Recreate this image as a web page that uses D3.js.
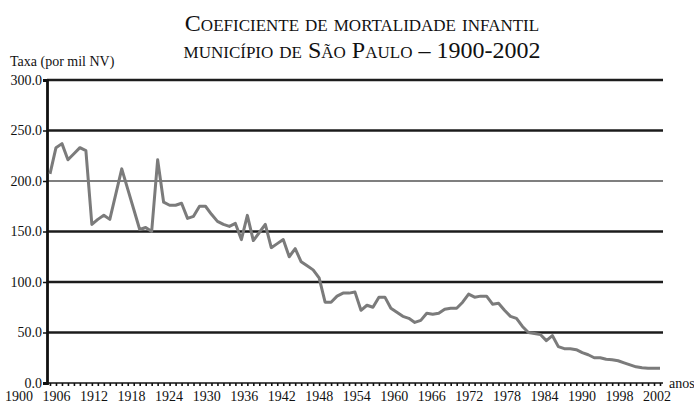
<!DOCTYPE html>
<html>
<head>
<meta charset="utf-8">
<script src="https://cdn.jsdelivr.net/npm/d3@7"></script>
<style>
  body { margin: 0; background: #fff; }
  svg { display: block; }
  text { font-family: "Liberation Serif", "Times New Roman", serif; fill: #111; }
</style>
</head>
<body>
<svg id="chart" width="694" height="406"></svg>
<script>
// infant mortality rate, city of São Paulo (per 1000 live births)
const years = [
  1900, 1901, 1902, 1903, 1904, 1905, 1906, 1907, 1908, 1909,
  1910, 1911, 1912, 1913, 1914, 1915, 1916, 1917, 1918, 1919,
  1920, 1921, 1922, 1923, 1924, 1925, 1926, 1927, 1928, 1929,
  1930, 1931, 1932, 1933, 1934, 1935, 1936, 1937, 1938, 1939,
  1940, 1941, 1942, 1943, 1944, 1945, 1946, 1947, 1948, 1949,
  1950, 1951, 1952, 1953, 1954, 1955, 1956, 1957, 1958, 1959,
  1960, 1961, 1962, 1963, 1964, 1965, 1966, 1967, 1968, 1969,
  1970, 1971, 1972, 1973, 1974, 1975, 1976, 1977, 1978, 1979,
  1980, 1981, 1982, 1983, 1984, 1985, 1986, 1987, 1988, 1989,
  1990, 1991, 1992, 1993, 1994, 1995, 1996, 1997, 1998, 1999,
  2000, 2001, 2002
];
const rates = [
  207, 233, 237, 221, 227, 233, 230, 157, 162, 166,
  162, 187, 212, 192, 172, 152, 154, 150, 221, 179,
  176, 176, 178, 163, 165, 175, 175, 167, 160, 157,
  155, 158, 142, 166, 141, 149, 157, 134, 138, 142,
  125, 133, 120, 116, 112, 104, 80, 80, 86, 89,
  89, 90, 72, 77, 75, 85, 85, 74, 70, 66,
  64, 60, 62, 69, 68, 69, 73, 74, 74, 80,
  88, 85, 86, 86, 78, 79, 72, 66, 64, 56,
  50, 49, 48, 42, 47, 36, 34, 34, 33, 30,
  28, 25, 25, 23.5, 23, 22, 20, 18, 16, 15,
  14.5, 14.5, 14.5
];
const yTicks = [0, 50, 100, 150, 200, 250, 300];
const xLabels = ["1900", "1906", "1912", "1918", "1924", "1930", "1936", "1942", "1948",
  "1954", "1960", "1966", "1972", "1978", "1984", "1990", "1998", "2002"];

const serif = "'Liberation Serif', 'Times New Roman', serif";
const svg = d3.select("#chart");
const plotLeft = 47, plotRight = 663, plotTop = 80, plotBottom = 383;

const x = d3.scaleLinear().domain([1900, 2002]).range([50, 660]);
const y = d3.scaleLinear().domain([0, 300]).range([plotBottom, plotTop]);
const xl = d3.scalePoint().domain(xLabels).range([19, 657]);

// title
const title = svg.append("g").attr("text-anchor", "middle")
  .style("font-family", serif)
  .style("font-variant", "small-caps").style("font-size", "24px");
title.append("text").attr("x", 362).attr("y", 31).text("Coeficiente de mortalidade infantil");
title.append("text").attr("x", 362).attr("y", 58).text("município de São Paulo – 1900-2002");

svg.append("text").attr("x", 10).attr("y", 66)
  .style("font-family", serif).style("font-size", "14px").text("Taxa (por mil NV)");

// gridlines
svg.append("g")
  .selectAll("line")
  .data(yTicks.filter(d => d > 0))
  .join("line")
  .attr("x1", plotLeft).attr("x2", plotRight)
  .attr("y1", d => y(d)).attr("y2", d => y(d))
  .attr("stroke", d => d === 200 ? "#555" : "#1c1c1c")
  .attr("stroke-width", d => d === 200 ? 1.4 : 2.4);

// y axis
const yAxis = svg.append("g").attr("transform", `translate(${plotLeft},0)`)
  .call(d3.axisLeft(y).tickValues(yTicks).tickSize(4).tickFormat(d3.format(".1f")));
yAxis.attr("font-family", null).attr("font-size", null);
yAxis.select(".domain").attr("stroke", "#111").attr("stroke-width", 2.8);
yAxis.selectAll(".tick line").attr("stroke", "#111").attr("stroke-width", 1.5);
yAxis.selectAll(".tick text")
  .attr("x", -5).attr("dy", "0.32em")
  .style("font-family", serif).style("font-size", "14px").attr("fill", "#111");

// x axis with a tick at every year
const xAxis = svg.append("g").attr("transform", `translate(0,${plotBottom})`)
  .call(d3.axisBottom(x).tickValues(d3.range(1900, 2003)).tickSize(3).tickFormat(""));
xAxis.select(".domain").attr("stroke", "#111").attr("stroke-width", 1.5)
  .attr("d", `M${plotLeft},0H${plotRight}`);
xAxis.selectAll(".tick line").attr("stroke", "#111").attr("stroke-width", 1.6);

svg.append("g").selectAll("text")
  .data(xLabels)
  .join("text")
  .attr("x", d => xl(d)).attr("y", 401)
  .attr("text-anchor", "middle")
  .style("font-family", serif)
  .style("font-size", "14px")
  .text(d => d);

svg.append("text").attr("x", 669).attr("y", 388)
  .style("font-family", serif).style("font-size", "14px").text("anos");

// the series
const line = d3.line().x((d, i) => x(years[i])).y(d => y(d));
svg.append("path")
  .datum(rates)
  .attr("fill", "none")
  .attr("stroke", "#7b7b7b")
  .attr("stroke-width", 3)
  .attr("stroke-linejoin", "round")
  .attr("d", line);
</script>
</body>
</html>
